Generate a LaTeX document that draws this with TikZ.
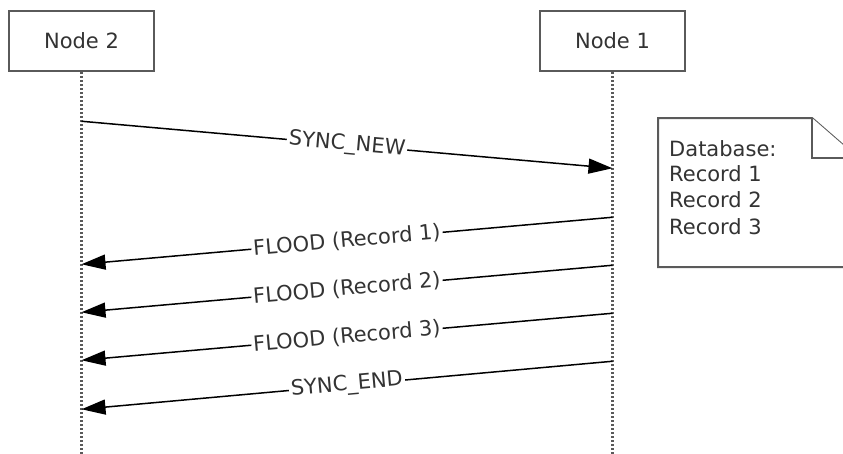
\documentclass[tikz,border=0pt]{standalone}
\usepackage{fontspec}
\setmainfont{DejaVu Sans}
\usetikzlibrary{arrows.meta,positioning}
\definecolor{boxgray}{HTML}{5A5A5A}
\definecolor{txtgray}{HTML}{333333}

\begin{document}
\begin{tikzpicture}[x=1pt, y=-1pt,
    every node/.style={font=\fontsize{21}{25.5}\selectfont, text=txtgray},
    actor/.style={draw=boxgray, line width=2.5pt, rectangle, fill=white, minimum width=145pt, minimum height=60pt},
    lifeline/.style={draw=boxgray, line width=2.5pt, dash pattern=on 2pt off 2pt},
    msg/.style={line width=1.5pt, -{Triangle[length=24pt,width=15pt]}},
    msglabel/.style={midway, sloped, fill=white, inner sep=2pt},
    notebox/.style={draw=boxgray, line width=2pt, fill=white}]
    \clip (0,0) rectangle (843,453);

    % Participants
    \node[actor] (node2) at (81.5,41) {Node 2};
    \node[actor, right=383.5pt of node2] (node1) {Node 1};

    % Lifelines
    \coordinate (bottom) at (0,455);
    \draw[lifeline] (node2.south) -- (node2 |- bottom);
    \draw[lifeline] (node1.south) -- (node1 |- bottom);

    % Messages
    \draw[msg] ([yshift=-49pt]node2.south) -- node[msglabel] {SYNC\_NEW} ([yshift=-96pt]node1.south);
    \draw[msg] ([yshift=-145pt]node1.south) -- node[msglabel] {FLOOD (Record 1)} ([yshift=-192pt]node2.south);
    \draw[msg] ([yshift=-193pt]node1.south) -- node[msglabel] {FLOOD (Record 2)} ([yshift=-240pt]node2.south);
    \draw[msg] ([yshift=-241pt]node1.south) -- node[msglabel] {FLOOD (Record 3)} ([yshift=-288pt]node2.south);
    \draw[msg] ([yshift=-289pt]node1.south) -- node[msglabel] {SYNC\_END} ([yshift=-337pt]node2.south);

    % Database note
    \draw[notebox] (658,118) -- (812,118) -- (858,158) -- (858,267) -- (658,267) -- cycle;
    \draw[notebox] (812,118) -- (812,158) -- (858,158);
    \node[anchor=north west, align=left, inner sep=0pt] (dbtext) at (669,140)
        {Database:\\Record 1\\Record 2\\[2pt]Record 3};
\end{tikzpicture}
\end{document}
